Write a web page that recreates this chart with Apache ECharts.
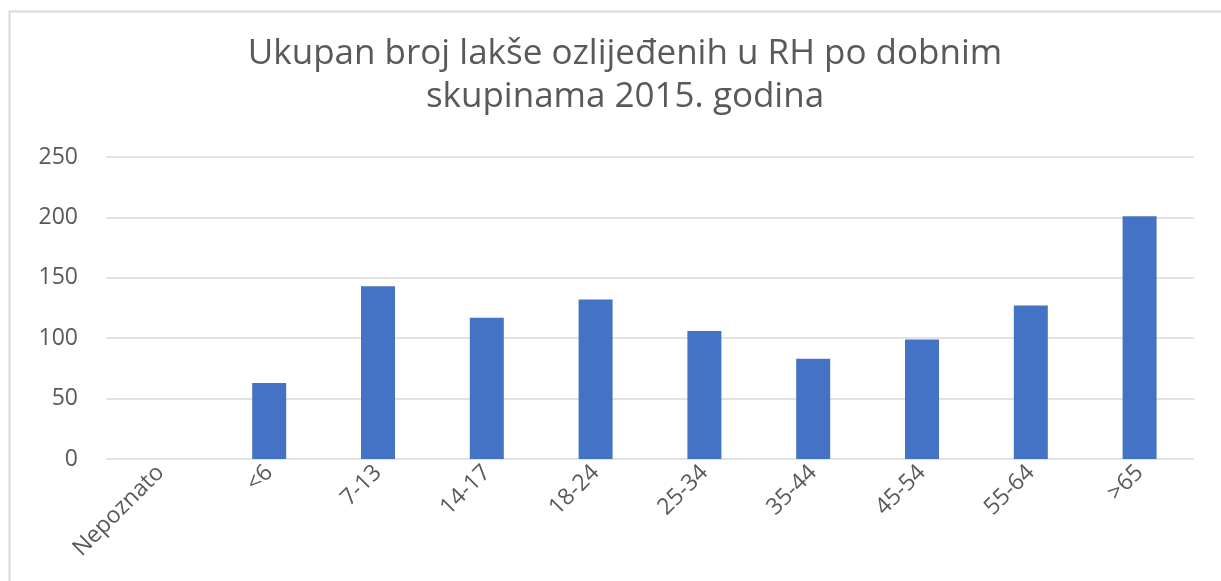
<!DOCTYPE html>
<html>
<head>
<meta charset="utf-8">
<script src="https://cdn.jsdelivr.net/npm/echarts@6/dist/echarts.min.js"></script>
<style>
  html, body { margin: 0; padding: 0; background: #fff; }
  #main { width: 1221px; height: 581px; }
</style>
</head>
<body>
<div id="main"></div>
<script>
const categories = ['Nepoznato', '<6', '7-13', '14-17', '18-24', '25-34', '35-44', '45-54', '55-64', '>65']
const injured = [0, 63, 143, 117, 132, 106, 83, 99, 127, 201]
const yTicks = [0, 50, 100, 150, 200, 250]

const chartDom = document.getElementById('main')
const myChart = echarts.init(chartDom)
const textColor = '#595959'
const gridColor = '#d9d9d9'

const option = {
  backgroundColor: '#fff',
  animation: false,
  title: {
    text: 'Ukupan broj lakše ozlijeđenih u RH po dobnim\nskupinama 2015. godina',
    left: 620,
    top: 28,
    textAlign: 'center',
    textStyle: {
      fontFamily: 'Open Sans',
      fontSize: 35,
      fontWeight: 'normal',
      color: textColor,
      lineHeight: 43,
    },
  },
  graphic: [
    {
      type: 'polyline',
      silent: true,
      shape: { points: [[9.5, 581], [9.5, 11.5], [1221, 11.5]] },
      style: { stroke: gridColor, lineWidth: 2, fill: null },
    },
  ],
  grid: { left: 106, right: 27, top: 157, bottom: 122 },
  xAxis: {
    type: 'category',
    data: categories,
    axisLine: { show: false },
    axisTick: { show: false },
    axisLabel: {
      rotate: 45,
      interval: 0,
      margin: 10,
      color: textColor,
      fontFamily: 'Open Sans',
      fontSize: 23,
    },
  },
  yAxis: {
    type: 'value',
    min: yTicks[0],
    max: yTicks[yTicks.length - 1],
    interval: 50,
    axisLine: { show: false },
    axisTick: { show: false },
    axisLabel: {
      margin: 28,
      color: textColor,
      fontFamily: 'Open Sans',
      fontSize: 23,
    },
    splitLine: { lineStyle: { color: gridColor, width: 1.5 } },
  },
  series: [
    {
      type: 'bar',
      data: injured,
      barWidth: 34,
      itemStyle: { color: '#4472c4' },
    },
  ],
}
option && myChart.setOption(option)
</script>
</body>
</html>
